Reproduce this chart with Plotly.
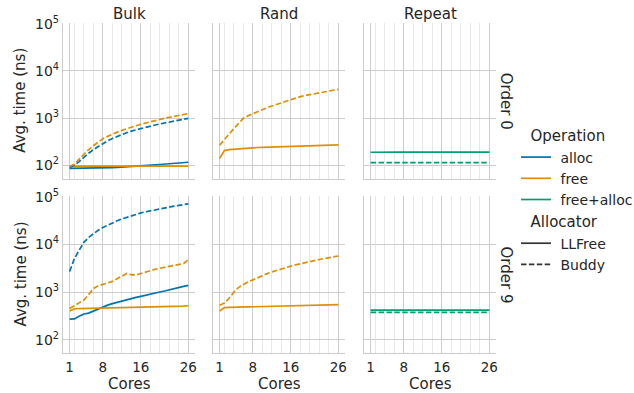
import plotly.graph_objects as go

cores = list(range(1, 27))

# Order 0
o0_bulk_alloc_llfree = [86, 86, 86, 86, 86, 87, 87, 88, 88, 89, 90, 91, 92, 93, 94, 96, 98, 100, 102, 104, 106, 108, 110, 112, 114, 116]
o0_bulk_free_llfree = [95, 96, 96, 96, 96, 96, 96, 96, 96, 96, 96, 96, 96, 96, 96, 96, 96, 96, 96, 96, 96, 96, 96, 96, 96, 96]
o0_bulk_alloc_buddy = [90, 100, 120, 150, 180, 215, 250, 290, 330, 370, 410, 450, 490, 530, 565, 600, 640, 680, 715, 750, 790, 830, 870, 910, 950, 990]
o0_bulk_free_buddy = [95, 105, 135, 175, 215, 260, 310, 365, 410, 460, 505, 550, 600, 640, 690, 740, 790, 840, 890, 940, 990, 1040, 1090, 1140, 1190, 1250]
o0_rand_free_llfree = [140, 205, 215, 220, 225, 228, 232, 235, 238, 240, 242, 244, 246, 248, 250, 252, 254, 256, 258, 260, 262, 263, 264, 266, 268, 270]
o0_rand_free_buddy = [265, 340, 460, 600, 780, 990, 1120, 1240, 1380, 1520, 1660, 1800, 1940, 2100, 2300, 2500, 2680, 2850, 3000, 3150, 3300, 3450, 3600, 3750, 3900, 4050]
o0_rep_fa_llfree = [189, 190, 192, 192, 191, 190, 190, 190, 190, 190, 190, 190, 190, 190, 190, 190, 190, 190, 190, 190, 190, 190, 190, 190, 190, 190]
o0_rep_fa_buddy = [114] * 26

# Order 9
o9_bulk_alloc_llfree = [270, 272, 310, 345, 360, 400, 440, 490, 530, 570, 610, 650, 690, 730, 770, 810, 860, 900, 950, 1000, 1050, 1100, 1170, 1240, 1310, 1380]
o9_bulk_free_llfree = [400, 445, 450, 452, 455, 457, 459, 460, 462, 463, 465, 467, 468, 470, 472, 474, 476, 478, 481, 484, 487, 490, 495, 500, 505, 515]
o9_bulk_alloc_buddy = [2700, 5000, 7500, 11000, 14000, 17000, 19800, 22500, 25400, 28300, 31200, 34100, 37000, 39900, 42800, 45700, 48200, 50700, 53200, 55700, 58200, 60700, 63200, 65700, 68200, 71000]
o9_bulk_free_buddy = [450, 520, 580, 680, 880, 1180, 1350, 1420, 1550, 1670, 1900, 2200, 2450, 2300, 2280, 2450, 2650, 2850, 3000, 3150, 3300, 3380, 3550, 3750, 3950, 4800]
o9_rand_free_llfree = [400, 470, 475, 478, 480, 482, 484, 486, 488, 490, 492, 494, 496, 498, 500, 502, 505, 508, 511, 514, 518, 522, 527, 532, 537, 545]
o9_rand_free_buddy = [530, 590, 740, 1000, 1250, 1450, 1640, 1800, 2010, 2220, 2430, 2640, 2850, 3070, 3290, 3500, 3720, 3940, 4160, 4380, 4600, 4820, 5040, 5260, 5480, 5700]
o9_rep_fa_llfree = [415] * 26
o9_rep_fa_buddy = [375] * 26

benchmarks = ["Bulk", "Rand", "Repeat"]
orders = ["Order 0", "Order 9"]
operations = ["alloc", "free", "free+alloc"]
allocators = ["LLFree", "Buddy"]
x_tick_vals = [1, 8, 16, 26]
y_tick_vals = [100, 1000, 10000, 100000]
y_tick_text = ["10<sup>2</sup>", "10<sup>3</sup>", "10<sup>4</sup>", "10<sup>5</sup>"]

colors = {"alloc": "#0173b2", "free": "#de8f05", "free+alloc": "#029e73"}
dashes = {"LLFree": "solid", "Buddy": "5.5px,2.4px"}

panels = {
    (0, 0): [("alloc", "LLFree", o0_bulk_alloc_llfree), ("free", "LLFree", o0_bulk_free_llfree),
             ("alloc", "Buddy", o0_bulk_alloc_buddy), ("free", "Buddy", o0_bulk_free_buddy)],
    (0, 1): [("free", "LLFree", o0_rand_free_llfree), ("free", "Buddy", o0_rand_free_buddy)],
    (0, 2): [("free+alloc", "LLFree", o0_rep_fa_llfree), ("free+alloc", "Buddy", o0_rep_fa_buddy)],
    (1, 0): [("alloc", "LLFree", o9_bulk_alloc_llfree), ("free", "LLFree", o9_bulk_free_llfree),
             ("alloc", "Buddy", o9_bulk_alloc_buddy), ("free", "Buddy", o9_bulk_free_buddy)],
    (1, 1): [("free", "LLFree", o9_rand_free_llfree), ("free", "Buddy", o9_rand_free_buddy)],
    (1, 2): [("free+alloc", "LLFree", o9_rep_fa_llfree), ("free+alloc", "Buddy", o9_rep_fa_buddy)],
}

W, H = 634, 393
col_px = [(63, 195), (213, 345), (364, 496)]
row_px = [(23, 178.5), (196, 353)]

FONT = "DejaVu Sans"
TXT = "#262626"
GRID = "#cccccc"
LBL = 15
NB = "\u00a0"

fig = go.Figure()
layout = dict(
    width=W, height=H,
    margin=dict(l=0, r=0, t=0, b=0, autoexpand=False),
    paper_bgcolor="white", plot_bgcolor="white",
    font=dict(family=FONT, size=13, color=TXT),
    showlegend=True,
)

annotations = []
for r in range(2):
    for c in range(3):
        i = r * 3 + c + 1
        xs = "" if i == 1 else str(i)
        x0, x1 = col_px[c]
        y0, y1 = row_px[r]
        layout["xaxis" + xs] = dict(
            domain=[x0 / W, x1 / W], anchor="y" + xs,
            range=[-0.4, 27.4], tickmode="array", tickvals=x_tick_vals,
            showticklabels=(r == 1), ticks="", ticklabelstandoff=2,
            showgrid=True, gridcolor=GRID, gridwidth=1.1,
            showline=True, linecolor=GRID, linewidth=1.3, mirror=False,
            zeroline=False, automargin=False,
            tickfont=dict(size=13.5, color=TXT, family=FONT),
            minor=dict(tickmode="array", tickvals=[2, 4, 6, 10, 12, 14, 18, 20, 22, 24],
                       showgrid=True, gridcolor="#e8e8e8", gridwidth=0.8, ticks=""),
        )
        layout["yaxis" + xs] = dict(
            domain=[1 - y1 / H, 1 - y0 / H], anchor="x" + xs,
            type="log", range=[1.72, 5.015],
            tickmode="array", tickvals=y_tick_vals, ticktext=y_tick_text,
            showticklabels=(c == 0), ticks="",
            showgrid=True, gridcolor=GRID, gridwidth=1.1,
            showline=True, linecolor=GRID, linewidth=1.3, mirror=False,
            zeroline=False, automargin=False,
            tickfont=dict(size=14, color=TXT, family=FONT),
        )
        for op, alloc, vals in panels[(r, c)]:
            fig.add_trace(go.Scatter(
                x=cores, y=vals, mode="lines",
                line=dict(color=colors[op], width=1.7, dash=dashes[alloc]),
                xaxis="x" + xs, yaxis="y" + xs, showlegend=False, hoverinfo="skip",
            ))

# column titles
for c, name in enumerate(benchmarks):
    xc = (col_px[c][0] + col_px[c][1]) / 2
    annotations.append(dict(text=name, x=xc / W, y=1 - 14 / H, xref="paper", yref="paper",
                            xanchor="center", yanchor="middle", showarrow=False,
                            font=dict(size=LBL, color=TXT, family=FONT)))
    annotations.append(dict(text="Cores", x=xc / W, y=1 - 384 / H, xref="paper", yref="paper",
                            xanchor="center", yanchor="middle", showarrow=False,
                            font=dict(size=LBL, color=TXT, family=FONT)))
# row titles
for r, name in enumerate(orders):
    yc = (row_px[r][0] + row_px[r][1]) / 2
    annotations.append(dict(text=name, x=506 / W, y=1 - yc / H, xref="paper", yref="paper",
                            xanchor="center", yanchor="middle", showarrow=False, textangle=90,
                            font=dict(size=LBL, color=TXT, family=FONT)))
    annotations.append(dict(text="Avg. time (ns)", x=20 / W, y=1 - yc / H, xref="paper", yref="paper",
                            xanchor="center", yanchor="middle", showarrow=False, textangle=-90,
                            font=dict(size=LBL, color=TXT, family=FONT)))
layout["annotations"] = annotations

# legend entries
for k, op in enumerate(operations):
    fig.add_trace(go.Scatter(
        x=[None], y=[None], mode="lines", name=NB + op,
        line=dict(color=colors[op], width=1.7),
        legendgroup="op",
        legendgrouptitle=dict(text=NB * 2 + "Operation", font=dict(size=LBL, color=TXT, family=FONT)),
    ))
for alloc in allocators:
    fig.add_trace(go.Scatter(
        x=[None], y=[None], mode="lines", name=NB + alloc,
        line=dict(color="#333333", width=1.7, dash=dashes[alloc]),
        legendgroup="al",
        legendgrouptitle=dict(text=NB * 2 + "Allocator", font=dict(size=LBL, color=TXT, family=FONT)),
    ))

layout["legend"] = dict(
    x=516 / W, xanchor="left", y=1 - 119 / H, yanchor="top",
    font=dict(size=14, color=TXT, family=FONT),
    tracegroupgap=0, itemwidth=30, bgcolor="rgba(0,0,0,0)",
)

fig.update_layout(**layout)
fig.write_html("out.html", config={"displayModeBar": False},
               post_script="document.body.style.margin='0';document.body.style.padding='0';document.body.style.overflow='hidden';")
